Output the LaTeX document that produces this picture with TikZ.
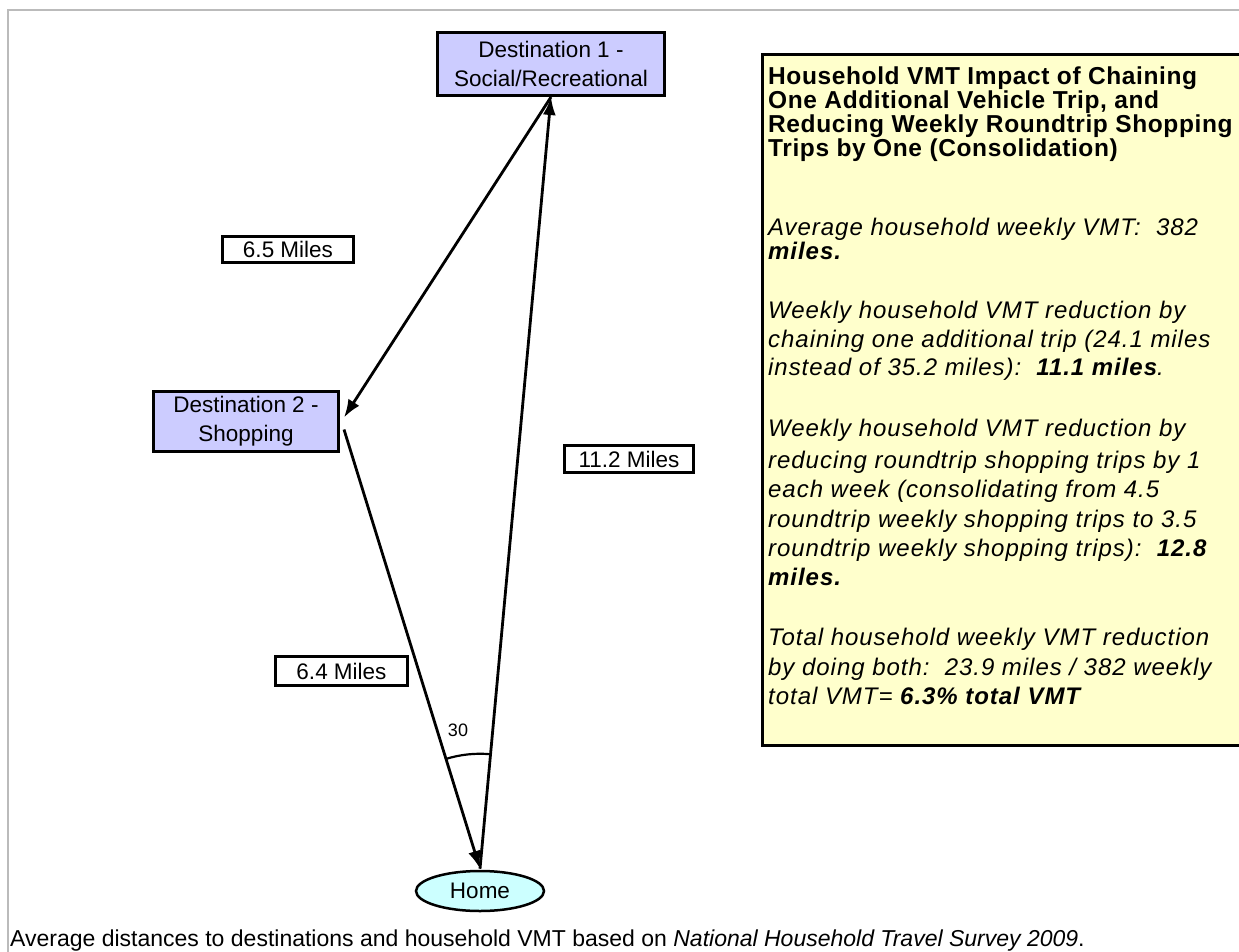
\documentclass[tikz,border=0pt]{standalone}
\usepackage{fontspec}
\setmainfont{Liberation Sans}
\newfontfamily\bodyfont[LetterSpace=4]{Liberation Sans}
\newfontfamily\titlefont[LetterSpace=2.5]{Liberation Sans}
\usetikzlibrary{arrows.meta,calc,shapes.geometric}
\definecolor{lav}{HTML}{CCCCFF}
\definecolor{homec}{HTML}{CCFFFF}
\definecolor{yel}{HTML}{FFFFCC}
\definecolor{framec}{HTML}{BBBBBB}
\begin{document}
\begin{tikzpicture}[x=1pt,y=-1pt,
  dest/.style={draw=black,line width=3pt,fill=lav,align=center,inner sep=0pt,
    font=\fontsize{22.5}{29}\selectfont},
  homenode/.style={ellipse,draw=black,line width=2.5pt,fill=homec,inner sep=0pt,
    minimum width=128pt,minimum height=40pt,font=\fontsize{22.5}{27}\selectfont},
  miles/.style={draw=black,line width=3pt,fill=white,inner sep=0pt,
    font=\fontsize{22.5}{27}\selectfont},
  conn/.style={line width=2.8pt,-{Latex[length=18pt,width=13pt]}},
  ttl/.style={anchor=base west,inner sep=0pt,font=\fontsize{24.5}{24}\titlefont\bfseries},
  bdy/.style={anchor=base west,inner sep=0pt,font=\fontsize{24}{24}\bodyfont\itshape},
  captxt/.style={anchor=base west,inner sep=0pt,font=\fontsize{23}{27}\selectfont}
]
\useasboundingbox (0,0) rectangle (1239,952);
\fill[white] (0,0) rectangle (1239,952);
% frame
\draw[framec,line width=1.2pt] (8,952) -- (8,10) -- (1239,10);

% nodes
\node[dest,minimum width=227pt,minimum height=63pt] (d1) at (551,64) {Destination 1 -\\Social/Recreational};
\node[dest,minimum width=185pt,minimum height=60pt] (d2) at (246,421.5) {Destination 2 -\\Shopping};
\node[homenode] (home) at (480,891) {Home};

\node[miles,minimum width=131pt,minimum height=26pt] (m1) at (288,249.5) {6.5 Miles};
\node[miles,minimum width=129pt,minimum height=27pt] (m2) at (629,459) {11.2 Miles};
\node[miles,minimum width=132pt,minimum height=29pt] (m3) at (341.5,671) {6.4 Miles};

% connectors
\coordinate (hp) at ([yshift=1pt]home.north);
\draw[conn] (hp) -- (d1.south);
\draw[conn] (d1.south) -- ([xshift=4pt,yshift=4pt]d2.east);
\draw[conn] ([xshift=4pt,yshift=-8pt]d2.east) -- (hp);

% angle
\draw[line width=2.2pt] (hp) ++(-84.7:115) arc[start angle=-84.7,end angle=-107.5,radius=115];
\node[font=\fontsize{18}{20}\selectfont,inner sep=0pt] (ang) at (458,730) {30};

% info box
\draw[line width=3pt,fill=yel] (762,55) rectangle (1260,745);
\node[ttl] (t1) at (768,85) {Household VMT Impact of Chaining};
\node[ttl] (t2) at (768,109) {One Additional Vehicle Trip, and};
\node[ttl] (t3) at (768,133) {Reducing Weekly Roundtrip Shopping};
\node[ttl] (t4) at (768,157) {Trips by One (Consolidation)};

\node[bdy] (a1) at (768,235) {Average household weekly VMT:\ \ 382};
\node[bdy] (a2) at (768,259) {\bfseries miles.};

\node[bdy] (b1) at (768,318) {Weekly household VMT reduction by};
\node[bdy] (b2) at (768,347) {chaining one additional trip (24.1 miles};
\node[bdy] (b3) at (768,375) {instead of 35.2 miles):\ \ \textbf{11.1 miles}.};

\node[bdy] (c1) at (768,436) {Weekly household VMT reduction by};
\node[bdy] (c2) at (768,468) {reducing roundtrip shopping trips by 1};
\node[bdy] (c3) at (768,497) {each week (consolidating from 4.5};
\node[bdy] (c4) at (768,527) {roundtrip weekly shopping trips to 3.5};
\node[bdy] (c5) at (768,556) {roundtrip weekly shopping trips):\ \ \textbf{12.8}};
\node[bdy] (c6) at (768,585) {\bfseries miles.};

\node[bdy] (e1) at (768,645) {Total household weekly VMT reduction};
\node[bdy] (e2) at (768,675) {by doing both:\ \ 23.9 miles / 382 weekly};
\node[bdy] (e3) at (768,704) {total VMT= \textbf{6.3\% total VMT}};

% caption
\node[captxt] (capt) at (10,946) {Average distances to destinations and household VMT based on \textit{National Household Travel Survey 2009}.};
\end{tikzpicture}
\end{document}
